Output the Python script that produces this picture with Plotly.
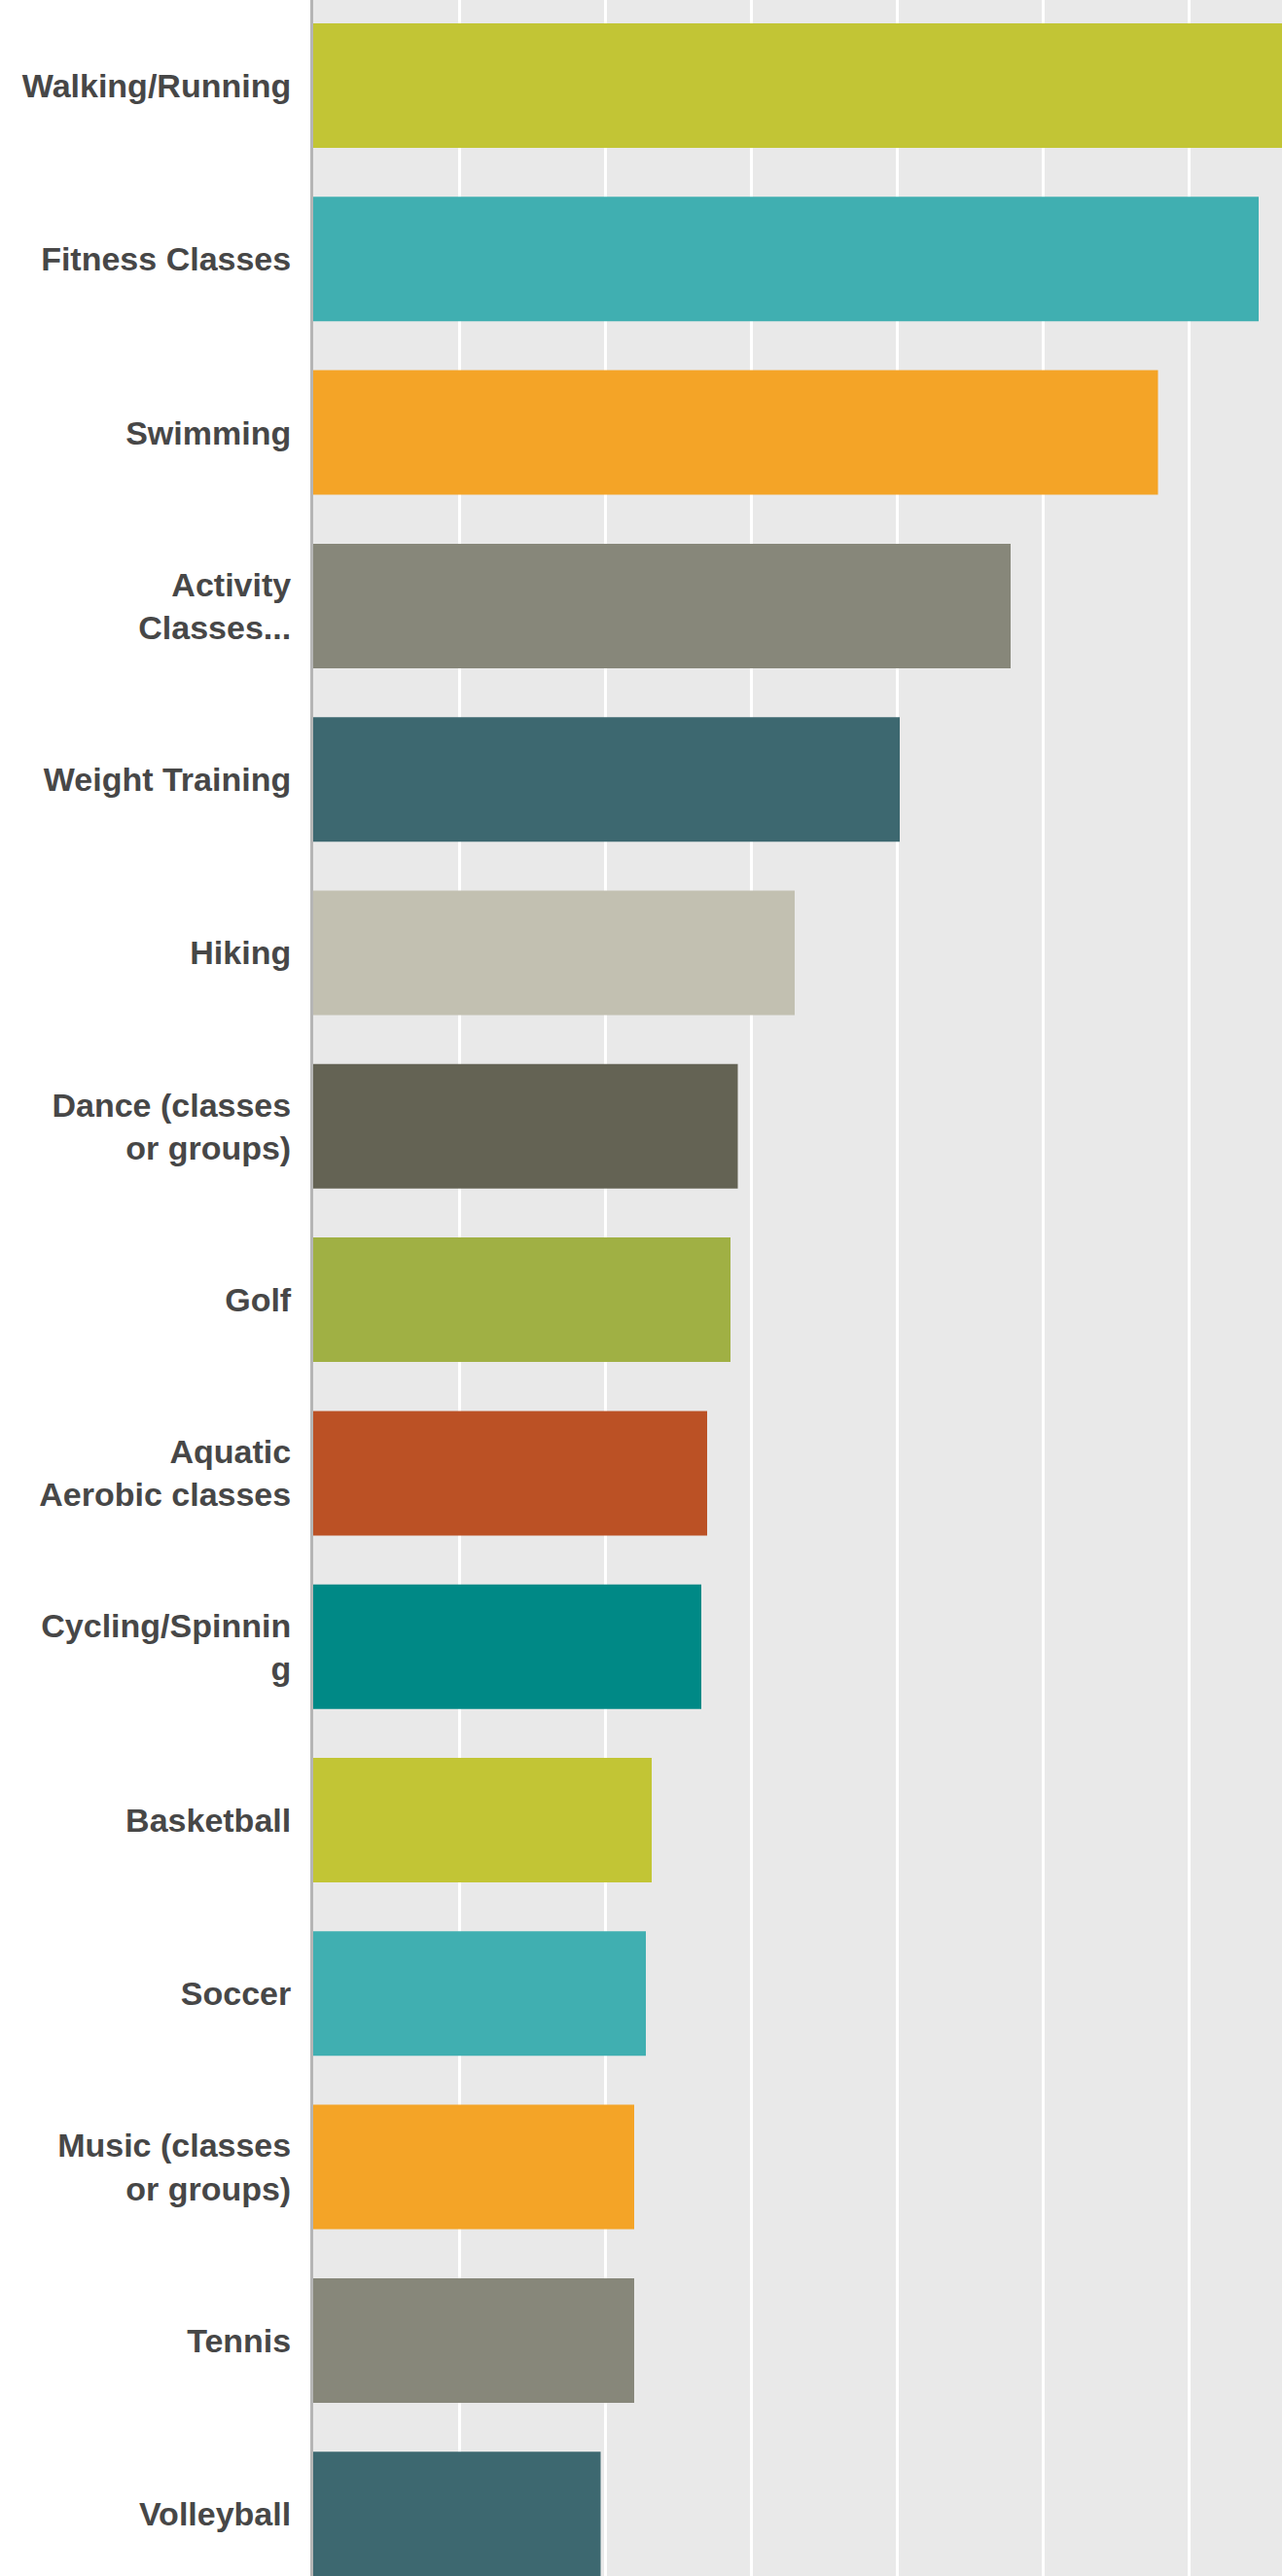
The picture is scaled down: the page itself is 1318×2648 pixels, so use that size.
import plotly.graph_objects as go

# Activities, in display order (top to bottom)
activities = [
    "Walking/Running",
    "Fitness Classes",
    "Swimming",
    "Activity<br>Classes...",
    "Weight Training",
    "Hiking",
    "Dance (classes<br>or groups)",
    "Golf",
    "Aquatic<br>Aerobic classes",
    "Cycling/Spinnin<br>g",
    "Basketball",
    "Soccer",
    "Music (classes<br>or groups)",
    "Tennis",
    "Volleyball",
]

# Share of respondents (%)
percent = [72.0, 64.8, 57.9, 47.8, 40.2, 33.0, 29.1, 28.6, 27.0, 26.6,
           23.2, 22.8, 22.0, 22.0, 19.7]

bar_colors = [
    "#c2c535", "#40afb1", "#f4a427", "#87877a", "#3d6870",
    "#c2c0b1", "#646354", "#a0b044", "#bb5125", "#008986",
    "#c2c535", "#40afb1", "#f4a427", "#87877a", "#3d6870",
]

fig = go.Figure(
    go.Bar(
        x=percent,
        y=activities,
        orientation="h",
        width=0.718,
        marker=dict(color=bar_colors, line=dict(width=0)),
        hoverinfo="x+y",
    )
)

W, H = 1318, 2648
left = 322
pitch = 178.3
first_center = 88

fig.update_layout(
    width=W,
    height=H,
    margin=dict(l=left, r=0, t=0, b=0, pad=0),
    paper_bgcolor="#ffffff",
    plot_bgcolor="#e9e9e9",
    showlegend=False,
    bargap=0.28,
)

fig.update_xaxes(
    range=[0, (W - left) / 15.0],
    dtick=10,
    tick0=0,
    showgrid=True,
    gridcolor="#ffffff",
    gridwidth=3,
    zeroline=False,
    showticklabels=False,
    ticks="",
    showline=False,
    fixedrange=True,
)

fig.update_yaxes(
    type="category",
    categoryorder="array",
    categoryarray=activities,
    range=[(H - first_center) / pitch, -first_center / pitch],
    showgrid=False,
    zeroline=False,
    showline=True,
    linecolor="#b5b5b5",
    linewidth=3,
    ticks="",
    ticklabelstandoff=13,
    tickfont=dict(family="Liberation Sans, Arial, sans-serif", size=34,
                  color="#474747", weight="bold"),
    fixedrange=True,
)

fig.write_html("out.html")
